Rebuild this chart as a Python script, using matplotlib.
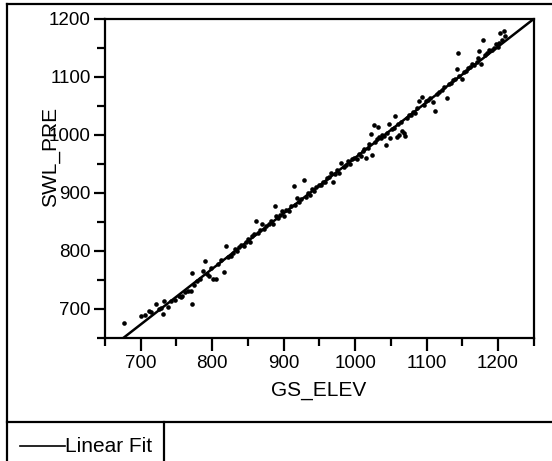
import matplotlib
matplotlib.use("Agg")
import matplotlib.pyplot as plt
from matplotlib.lines import Line2D
from matplotlib.ticker import MultipleLocator
import numpy as np

plt.rcParams['font.family'] = ['Liberation Sans', 'DejaVu Sans']

# valores
gs_elev = [677, 700, 706, 712, 715, 721, 726, 729, 732, 733, 738, 742, 748, 753, 756,
           758, 762, 766, 770, 772, 772, 775, 779, 783, 787, 790, 793, 796, 799, 801,
           805, 808, 812, 816, 819, 822, 826, 829, 832, 835, 838, 841, 844, 847, 850,
           853, 856, 858, 861, 864, 867, 870, 873, 876, 879, 882, 885, 888, 889, 892,
           895, 898, 901, 904, 907, 910, 914, 916, 919, 922, 925, 928, 931, 934, 937,
           940, 943, 946, 949, 952, 955, 958, 961, 964, 967, 969, 972, 975, 978, 981,
           984, 987, 990, 993, 996, 999, 1002, 1005, 1008, 1011, 1013, 1015, 1018, 1020,
           1022, 1024, 1026, 1028, 1030, 1032, 1033, 1036, 1038, 1040, 1043, 1045, 1047,
           1049, 1051, 1054, 1056, 1058, 1060, 1062, 1064, 1066, 1068, 1070, 1072, 1075,
           1078, 1081, 1084, 1087, 1089, 1093, 1096, 1099, 1102, 1105, 1109, 1112, 1115,
           1118, 1121, 1124, 1128, 1131, 1134, 1137, 1140, 1142, 1144, 1146, 1149, 1152,
           1155, 1158, 1161, 1164, 1167, 1170, 1172, 1174, 1176, 1179, 1182, 1185, 1188,
           1191, 1194, 1197, 1200, 1202, 1203, 1206, 1208, 1210]
swl_pre = [676, 688, 690, 697, 694, 708, 700, 702, 691, 714, 703, 713, 716, 722, 720,
           723, 730, 731, 731, 762, 708, 741, 748, 752, 765, 782, 760, 757, 770, 752,
           751, 777, 785, 763, 808, 790, 791, 796, 803, 800, 806, 810, 808, 815, 820,
           816, 826, 830, 852, 831, 836, 846, 838, 843, 847, 852, 846, 878, 860, 857,
           862, 869, 860, 871, 869, 877, 912, 880, 892, 884, 890, 923, 893, 900, 897,
           906, 904, 910, 914, 913, 918, 919, 925, 928, 935, 918, 932, 940, 935, 952,
           945, 948, 955, 950, 958, 960, 958, 967, 964, 972, 976, 961, 977, 984,
           1001, 966, 1017, 987, 993, 1013, 996, 995, 1000, 998, 983, 1004, 1018,
           995, 1010, 1012, 1032, 996, 1018, 1000, 1022, 1006, 1004, 998, 1030, 1034,
           1035, 1040, 1038, 1046, 1058, 1066, 1051, 1058, 1060, 1064, 1056, 1041, 1070,
           1074, 1078, 1082, 1064, 1087, 1090, 1094, 1096, 1113, 1141, 1102, 1096, 1108,
           1110, 1115, 1117, 1122, 1120, 1126, 1132, 1144, 1122, 1164, 1138, 1142, 1146,
           1146, 1150, 1156, 1152, 1159, 1176, 1164, 1179, 1170]

# ajuste linear (inclinacao e intercepto)
fit_slope = 0.958
fit_intercept = 2.5

x_ticks = [700, 800, 900, 1000, 1100, 1200]
y_ticks = [700, 800, 900, 1000, 1100, 1200]

fig = plt.figure(figsize=(5.52, 4.61), dpi=100)
ax = fig.add_axes([0.190, 0.267, 0.777, 0.692])

ax.scatter(gs_elev, swl_pre, s=11, color='black', marker='o', linewidths=0, zorder=3)

x_fit = np.array([650, 1250])
ax.plot(x_fit, fit_slope * x_fit + fit_intercept, color='black', lw=1.8, zorder=4)

ax.set_xlim(650, 1250)
ax.set_ylim(650, 1200)
ax.set_xticks(x_ticks)
ax.set_yticks(y_ticks)
ax.xaxis.set_minor_locator(MultipleLocator(50))
ax.yaxis.set_minor_locator(MultipleLocator(50))

for s in ax.spines.values():
    s.set_linewidth(1.6)

ax.tick_params(axis='x', which='major', direction='out', length=9, width=1.6, pad=3, labelsize=13.5)
ax.tick_params(axis='x', which='minor', direction='out', length=6, width=1.6)
ax.tick_params(axis='y', which='major', direction='out', length=8, width=1.6, pad=2, labelsize=13.5)
ax.tick_params(axis='y', which='minor', direction='out', length=5.5, width=1.6)

fig.text(319 / 552, 1 - 390 / 461, 'GS_ELEV', fontsize=15, ha='center', va='center')
fig.text(51 / 552, 1 - 157 / 461, 'SWL_PRE', fontsize=15, rotation=90, ha='center', va='center')

# moldura externa e painel da legenda
lw_frame = 1.6
x0 = 7 / 552
y_top = 1 - 4 / 461
y_div = 1 - 422 / 461
x_div = 164 / 552
for xs, ys in [([x0, 1], [y_top, y_top]),
               ([x0, x0], [y_top, 0]),
               ([x0, 1], [y_div, y_div]),
               ([x_div, x_div], [y_div, 0])]:
    fig.add_artist(Line2D(xs, ys, color='black', lw=lw_frame, transform=fig.transFigure))

y_leg = 1 - 446 / 461
fig.add_artist(Line2D([20 / 552, 65 / 552], [y_leg, y_leg], color='black', lw=1.2,
                      transform=fig.transFigure))
fig.text(65 / 552, y_leg, 'Linear Fit', fontsize=15, ha='left', va='center')

plt.savefig("out.png", dpi=100)
plt.close()
